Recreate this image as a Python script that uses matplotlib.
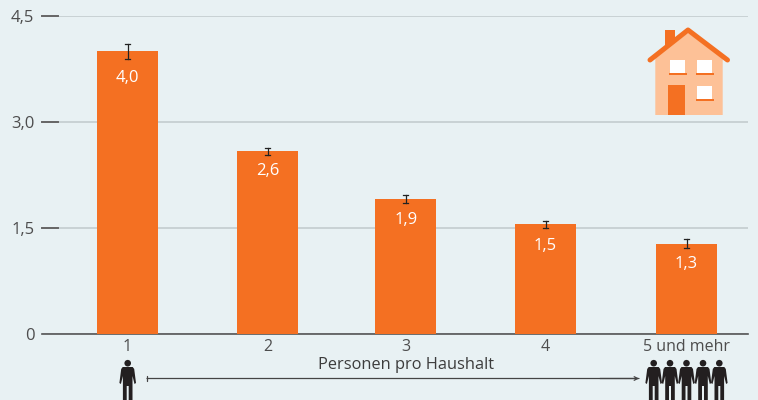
import matplotlib
matplotlib.use('Agg')
import matplotlib.pyplot as plt
from matplotlib.patches import Circle, Polygon, Rectangle

plt.rcParams['font.family'] = ['Open Sans', 'DejaVu Sans']

categories = ['1', '2', '3', '4', '5 und mehr']
values = [4.0, 2.59, 1.91, 1.55, 1.27]
err_low = [3.89, 2.537, 1.849, 1.495, 1.213]
err_high = [4.10, 2.628, 1.963, 1.595, 1.34]
value_labels = ['4,0', '2,6', '1,9', '1,5', '1,3']
y_ticks = [0, 1.5, 3.0, 4.5]
y_tick_labels = ['0', '1,5', '3,0', '4,5']
x_title = 'Personen pro Haushalt'

bg = '#E8F1F3'
orange = '#F47022'
light_orange = '#FDC197'
text_col = '#4D4D4D'
W, H = 758, 400

fig = plt.figure(figsize=(W / 100, H / 100), dpi=100, facecolor=bg)
# axes box in pixels: x 42-748, y 16-334
ax = fig.add_axes([42 / W, 1 - 334 / H, 706 / W, 318 / H], facecolor=bg)
ax.set_ylim(0, 4.5)
ax.set_xlim(-0.612, 4.44)

# the bars are not quite evenly spaced in the original
x = [0, 1.003, 1.99, 2.991, 4]
label_drop = [31, 24.3, 25.3, 25.3, 23.7]
ax.bar(x, values, width=0.437, color=orange, zorder=3)
for i in range(len(x)):
    ax.plot([x[i], x[i]], [err_low[i], err_high[i]], color='#222222', lw=0.9, zorder=4)
    for e in (err_low[i], err_high[i]):
        ax.plot([x[i] - 0.018, x[i] + 0.018], [e, e], color='#222222', lw=0.9, zorder=4)
    ax.annotate(value_labels[i], (x[i], values[i]), xytext=(0, -label_drop[i]), textcoords='offset pixels',
                ha='center', va='baseline', color='white', fontsize=12, zorder=5)

for s in ['top', 'right', 'left']:
    ax.spines[s].set_visible(False)
ax.spines['bottom'].set_color('#555555')
ax.spines['bottom'].set_linewidth(1.2)
ax.set_yticks(y_ticks)
ax.set_yticklabels(y_tick_labels, color=text_col, fontsize=12)
ax.set_xticks(x)
ax.set_xticklabels(categories, color=text_col, fontsize=11.5)
ax.tick_params(axis='x', length=0, pad=3.6)
ax.tick_params(axis='y', length=0, pad=5.5)
ax.grid(axis='y', color='#C9D2D4', lw=1.4, zorder=1)
ax.set_axisbelow(True)
# short dark stubs at the start of the grid lines
for t in y_ticks[1:]:
    ax.plot([-0.612, -0.497], [t, t], color='#666666', lw=1.4, zorder=2, clip_on=False)

# overlay in pixel coordinates for icons and arrow
ov = fig.add_axes([0, 0, 1, 1], facecolor='none')
ov.set_xlim(0, W)
ov.set_ylim(H, 0)
ov.axis('off')

ov.text(406.5, 365, x_title, ha='center', va='center', color='#3C3C3C', fontsize=11.8)
ov.annotate('', xy=(639, 378.5), xytext=(147, 378.5),
            arrowprops=dict(arrowstyle='|-|,widthA=0.18,widthB=0', color='#444444', lw=0.9, shrinkA=0, shrinkB=0))
ov.annotate('', xy=(639, 378.5), xytext=(600, 378.5),
            arrowprops=dict(arrowstyle='->,head_length=0.25,head_width=0.13', color='#444444', lw=0.9, shrinkA=0, shrinkB=0))


def person(cx):
    dark = '#231F20'
    ov.add_patch(Circle((cx, 363.2), 3.3, color=dark, lw=0))
    ov.add_patch(Polygon([(cx - 5, 367), (cx + 5, 367), (cx + 6.5, 369), (cx + 8.3, 383),
                          (cx + 6.8, 384), (cx + 4.8, 376), (cx + 4.8, 386), (cx + 4.8, 400),
                          (cx + 1, 400), (cx + 1, 386), (cx - 1, 386), (cx - 1, 400),
                          (cx - 4.8, 400), (cx - 4.8, 386), (cx - 4.8, 376), (cx - 6.8, 384),
                          (cx - 8.3, 383), (cx - 6.5, 369)], closed=True, color=dark, lw=0))


person(127.7)
for cx in [653.7, 670, 686.5, 703, 719.3]:
    person(cx)

# house
ov.add_patch(Rectangle((665, 30), 10, 16, color=orange, lw=0))
ov.add_patch(Polygon([(655.3, 115), (655.3, 57), (688, 33), (722.7, 57), (722.7, 115)],
                     closed=True, color=light_orange, lw=0))
ov.plot([650, 688, 727.5], [60, 30, 60], color=orange, lw=3.6, solid_capstyle='round',
        solid_joinstyle='round')
for wx, wy in [(670, 60), (697, 60), (697, 86)]:
    ov.add_patch(Rectangle((wx, wy), 15, 13, color='white', lw=0))
    ov.add_patch(Rectangle((wx - 1.5, wy + 13), 18, 2, color=orange, lw=0))
ov.add_patch(Rectangle((668, 85), 17, 30, color=orange, lw=0))

fig.savefig('out.png', dpi=100, facecolor=bg)
